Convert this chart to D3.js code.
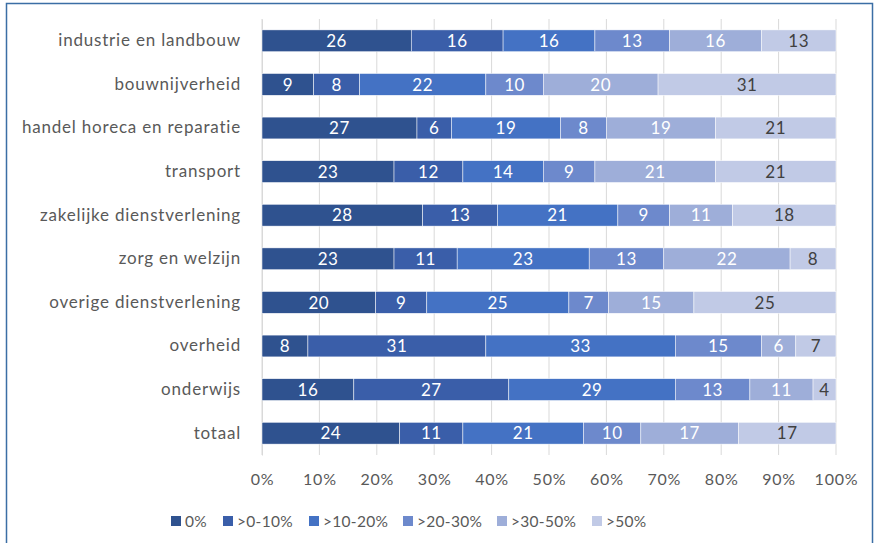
<!DOCTYPE html>
<html>
<head>
<meta charset="utf-8">
<script src="https://cdn.jsdelivr.net/npm/d3@7"></script>
<style>
  body { margin: 0; background: #fff; }
  svg text { font-family: Lato, "Open Sans", sans-serif; }
</style>
</head>
<body>
<svg id="drawing_region"></svg>
<script>
// categories (top to bottom)
const categories = [
    "industrie en landbouw", "bouwnijverheid", "handel horeca en reparatie",
    "transport", "zakelijke dienstverlening", "zorg en welzijn",
    "overige dienstverlening", "overheid", "onderwijs", "totaal"
];
const seriesNames = ["0%", ">0-10%", ">10-20%", ">20-30%", ">30-50%", ">50%"];
const s0   = [26,  9, 27, 23, 28, 23, 20,  8, 16, 24];
const s10  = [16,  8,  6, 12, 13, 11,  9, 31, 27, 11];
const s20  = [16, 22, 19, 14, 21, 23, 25, 33, 29, 21];
const s30  = [13, 10,  8,  9,  9, 13,  7, 15, 13, 10];
const s50  = [16, 20, 19, 21, 11, 22, 15,  6, 11, 17];
const sTop = [13, 31, 21, 21, 18,  8, 25,  7,  4, 17];
const tickLabels = ["0%", "10%", "20%", "30%", "40%", "50%", "60%", "70%", "80%", "90%", "100%"];

const colors = ["#2f528f", "#3a5ea9", "#4472c4", "#6d89cc", "#9eaed9", "#c1cae6"];

const allSeries = [s0, s10, s20, s30, s50, sTop];
const table = categories.map((c, i) => {
    let row = { cat: c };
    seriesNames.forEach((s, j) => row[s] = allSeries[j][i]);
    return row;
});

const width = 876, height = 543;
const margin = { top: 19, right: 40, bottom: 88, left: 262 };
const innerW = width - margin.left - margin.right;
const innerH = height - margin.top - margin.bottom;

const svg = d3.select('#drawing_region')
    .attr('width', width)
    .attr('height', height);

// chart border
svg.append('rect')
    .attr('x', 6.5).attr('y', 3.5)
    .attr('width', 866).attr('height', 560)
    .attr('fill', 'none')
    .attr('stroke', '#3b6ea5')
    .attr('stroke-width', 1.5);

const chart = svg.append('g')
    .attr('transform', `translate(${margin.left}, ${margin.top})`);

const xscale = d3.scaleLinear().domain([0, 1]).range([0, innerW]);
const yscale = d3.scaleBand().domain(categories).range([0, innerH]).paddingInner(0.5).paddingOuter(0.25);

// gridlines
chart.append('g')
    .selectAll('line')
    .data(d3.range(0, 1.0001, 0.1))
    .join('line')
    .attr('x1', d => xscale(d)).attr('x2', d => xscale(d))
    .attr('y1', 0).attr('y2', innerH)
    .attr('stroke', '#d9d9d9')
    .attr('stroke-width', 1);

// x axis labels
const xaxis = d3.axisBottom(xscale)
    .tickValues(d3.range(0, 1.0001, 0.1))
    .tickFormat((d, i) => tickLabels[i])
    .tickSize(0)
    .tickPadding(19);

const xg = chart.append('g')
    .attr('transform', `translate(0, ${innerH})`)
    .call(xaxis);
xg.select('.domain').remove();
xg.selectAll('text')
    .attr('fill', '#595959')
    .attr('font-size', 16)
    .attr('letter-spacing', 0.8);

// y axis
const yaxis = d3.axisLeft(yscale).tickSize(0).tickPadding(21);
const yg = chart.append('g').call(yaxis);
yg.select('.domain').attr('stroke', '#d9d9d9');
yg.selectAll('text')
    .attr('fill', '#595959')
    .attr('font-size', 17)
    .attr('letter-spacing', 0.8);

// stacked bars
const stack = d3.stack().keys(seriesNames).offset(d3.stackOffsetExpand);
const stacked = stack(table);

const layers = chart.append('g')
    .selectAll('g')
    .data(stacked)
    .join('g')
    .attr('fill', (d, i) => colors[i]);

layers.selectAll('rect')
    .data(d => d)
    .join('rect')
    .attr('x', d => xscale(d[0]))
    .attr('y', d => yscale(d.data.cat))
    .attr('width', d => xscale(d[1]) - xscale(d[0]))
    .attr('height', yscale.bandwidth())
    .attr('stroke', '#ffffff')
    .attr('stroke-width', 0.5);

layers.selectAll('text')
    .data((d, i) => d.map(v => ({ v: v, key: d.key, idx: i })))
    .join('text')
    .attr('x', d => (xscale(d.v[0]) + xscale(d.v[1])) / 2)
    .attr('y', d => yscale(d.v.data.cat) + yscale.bandwidth() / 2)
    .attr('dy', '0.36em')
    .attr('text-anchor', 'middle')
    .attr('font-size', 17)
    .attr('letter-spacing', 0.5)
    .attr('fill', d => d.idx === 5 ? '#404040' : '#ffffff')
    .text(d => d.v.data[d.key]);

// legend
const legendX = [171, 223, 309, 403, 497, 592];
const legend = svg.append('g')
    .selectAll('g')
    .data(seriesNames)
    .join('g')
    .attr('transform', (d, i) => `translate(${legendX[i]}, 521)`);

legend.append('rect')
    .attr('x', 0).attr('y', -5)
    .attr('width', 10).attr('height', 10)
    .attr('fill', (d, i) => colors[i]);

legend.append('text')
    .attr('x', 14)
    .attr('dy', '0.36em')
    .attr('font-size', 15.5)
    .attr('letter-spacing', 0.3)
    .attr('fill', '#595959')
    .text(d => d);
</script>
</body>
</html>
